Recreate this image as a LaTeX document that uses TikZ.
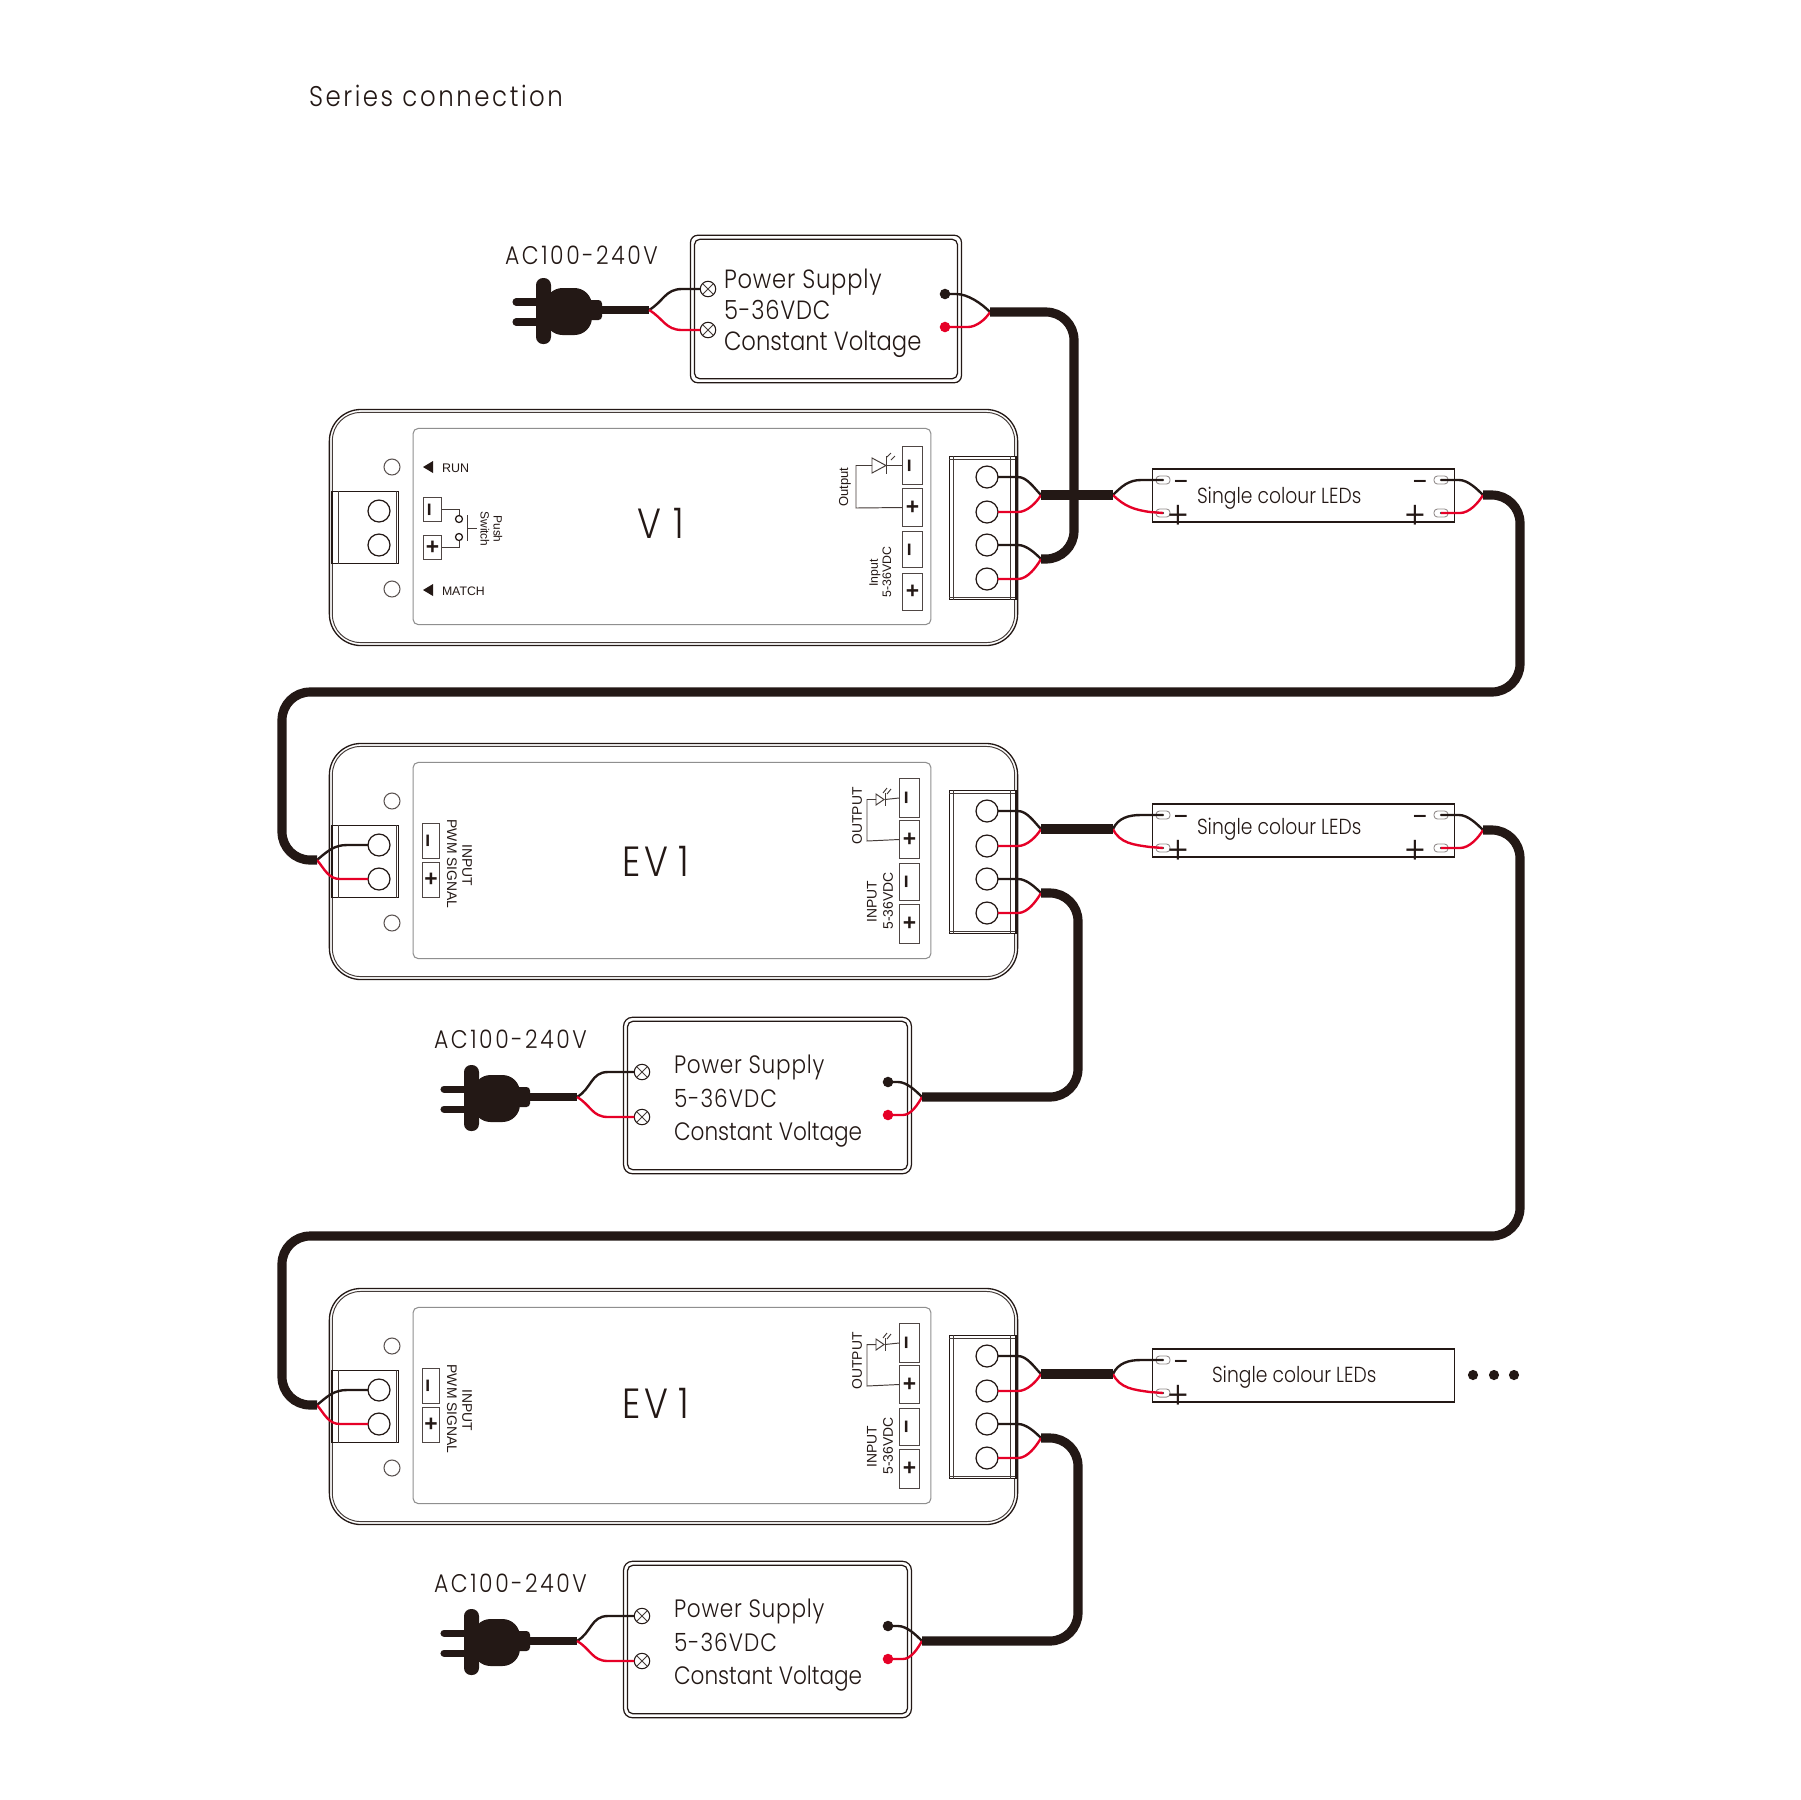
\documentclass[tikz,border=0pt]{standalone}
\usepackage{fontspec}
\usepackage{graphicx}
\usetikzlibrary{calc}
\setmainfont{Liberation Sans}
\newfontfamily\hv{Liberation Sans}
\newfontfamily\fut[FakeStretch=.86]{Poppins Light}
\newcommand\fz[1]{\fontsize{#1}{#1}\selectfont}
\newcommand\ls[1]{\addfontfeature{LetterSpace=#1}}
\def\pxu{0.5669pt}
\definecolor{ink}{HTML}{231815}
\definecolor{wred}{HTML}{E60027}
\definecolor{panelgray}{HTML}{8F8F8F}
\tikzset{
  rct/.style={draw=ink,rectangle,inner sep=0pt,outer sep=0pt,line width=.7pt},
  bodyo/.style={line width=.75pt,rounded corners=18pt},
  bodyi/.style={line width=.55pt,rounded corners=16pt,draw=ink!85},
  panel/.style={draw=panelgray,line width=.6pt,rounded corners=3pt},
  pin/.style={draw=ink!80,line width=.6pt,text=ink,font=\hv\bfseries\fz{13}},
  circ/.style={circle,draw=ink,fill=white,line width=.7pt,inner sep=0pt,outer sep=0pt},
  led/.style={circle,draw=ink!75,fill=white,line width=.6pt,inner sep=0pt,outer sep=0pt,minimum size=9.1pt},
  screw/.style={circle,draw=ink,fill=white,line width=.6pt,inner sep=0pt,outer sep=0pt,minimum size=8.8pt},
  dotk/.style={circle,fill=ink,inner sep=0pt,outer sep=0pt,minimum size=6pt},
  dotr/.style={circle,fill=wred,inner sep=0pt,outer sep=0pt,minimum size=6pt},
  wk/.style={draw=ink,line width=1.35pt},
  wr/.style={draw=wred,line width=1.35pt},
  cable/.style={draw=ink,line width=5.2pt,rounded corners=16pt},
  thin/.style={draw=ink!85,line width=.55pt},
  lbl/.style={inner sep=0pt,outer sep=0pt,text=ink},
  pad/.style={rectangle,rounded corners=2pt,draw=ink!50,fill=white,line width=.5pt,inner sep=0pt,outer sep=0pt,minimum width=8pt,minimum height=4.6pt},
}
\newcommand\rc[7][]{\node[rct,#1,minimum width={(#5-#3)*\pxu},minimum height={(#6-#4)*\pxu}] (#2) at ({(#3+#5)/2},{(#4+#6)/2}) {#7};}
\newcommand\vminus{\rotatebox{90}{−}}
% common parts of a controller, row-1 frame
\newcommand\ctrlbody{%
  \rc[bodyo]{body}{328}{408}{1019}{645}{}
  \rc[bodyi]{bodyin}{331}{411}{1016}{642}{}
  \rc[panel]{panelbox}{412}{427}{932}{624}{}
  \node[led] (runled) at (392,466) {};
  \node[led] (matchled) at (392,588) {};
  \rc[fill=white]{lblock}{331}{490}{399}{563}{}
  \draw[thin] (338,490) -- (338,563);
  \draw[thin] (396,490) -- (396,563);
  \draw[draw=ink,line width=1.5pt] (332,490) -- (332,563);
  \node[circ,minimum size=12.5pt] (la) at (379,510) {};
  \node[circ,minimum size=12.5pt] (lb) at (379,544) {};
  \rc[fill=white]{rblock}{949}{455}{1018}{599}{}
  \draw[thin] (953,455) -- (953,599);
  \draw[thin] (1010,455) -- (1010,599);
  \draw[thin] (949,458.5) -- (1018,458.5);
  \draw[thin] (949,596.5) -- (1018,596.5);
  \draw[draw=ink,line width=1.5pt] (1016.5,455) -- (1016.5,599);
  \node[circ,minimum size=12.5pt] (ca) at (987,476) {};
  \node[circ,minimum size=12.5pt] (cb) at (987,511) {};
  \node[circ,minimum size=12.5pt] (cc) at (987,544) {};
  \node[circ,minimum size=12.5pt] (cd) at (987,578) {};
  \coordinate (sout) at (1041,494);
  \coordinate (sin) at (1041,558);
}
\newcommand\ctrlwires{%
  \draw[wk] (ca.east) -- ++(20,0) to[out=0,in=135,looseness=.8] (sout);
  \draw[wr] (cb.east) -- ++(20,0) to[out=0,in=240,looseness=.8] (sout);
  \draw[wk] (cc.east) -- ++(20,0) to[out=0,in=135,looseness=.8] (sin);
  \draw[wr] (cd.east) -- ++(20,0) to[out=0,in=240,looseness=.8] (sin);
}
% EV1 panel contents
\newcommand\evparts[1]{%
  \node[lbl,font=\fut\fz{24}] (title) at (656,#1) {E\kern2pt V\kern6pt 1};
  \rc[pin]{pm}{422}{488}{440}{524}{\vminus}
  \rc[pin]{pp}{422}{527}{440}{563}{+}
  \node[lbl,rotate=-90,font=\hv\fz{7.9}] (linput) at (467,530) {INPUT};
  \node[lbl,rotate=-90,font=\hv\fz{7.9}] (lpwm) at (452,529) {PWM SIGNAL};
  \rc[pin]{oma}{899}{443}{920}{483}{\vminus}
  \rc[pin]{opa}{899}{485}{920}{524}{+}
  \rc[pin]{ima}{899}{528}{920}{566}{\vminus}
  \rc[pin]{ipa}{899}{569}{920}{609}{+}
  \node[lbl,rotate=90,font=\hv\fz{7.9}] (loutput) at (857,481) {OUTPUT};
  \node[lbl,rotate=90,font=\hv\fz{7.9}] (linp) at (872,567) {INPUT};
  \node[lbl,rotate=90,font=\hv\fz{7.9}] (lvdc) at (888,566) {5-36VDC};
  \draw[thin] (876,459) -- (876,470) -- (884,464.5) -- cycle;
  \draw[thin] (885,458) -- (885,471);
  \draw[thin] (885,464.5) -- (oma.west);
  \draw[thin] (876,464.5) -- (867,464.5) -- (867,506) -- (opa.west);
  \draw[thin] (883,458) -- (887,453);
  \draw[thin] (887,459) -- (891,454);
}
% LED strip, row-1 frame: text x, text baseline, split y, wire angle
\newcommand\strip[4]{%
  \rc[line width=.9pt,fill=white]{strip}{1152}{468}{1455}{521}{}
  \node[pad] (pa) at (1163,479) {};
  \node[pad] (pb) at (1163,512) {};
  \fill[ink] (pa) circle (1.2);
  \fill[ink] (pb) circle (1.2);
  \node[lbl,font=\fut\fz{20}] (tminus) at (1181,486) {−};
  \node[lbl,font=\fut\fz{22}] (tplus) at (1178,516) {+};
  \node[lbl,anchor=base west,font=\fut\fz{12.4}] (stext) at (#1,#2) {Single colour LEDs};
  \coordinate (sleft) at (1113,#3);
  \draw[wk] (sleft) to[out=#4,in=180] (1141,479) -- (pa.center);
  \draw[wr] (sleft) to[out=-#4,in=172] (1150,511) -- (pb.center);
}
\newcommand\stripright{%
  \node[pad] (qa) at (1441,479) {};
  \node[pad] (qb) at (1441,512) {};
  \fill[ink] (qa) circle (1.2);
  \fill[ink] (qb) circle (1.2);
  \node[lbl,font=\fut\fz{20}] (uminus) at (1420,486) {−};
  \node[lbl,font=\fut\fz{22}] (uplus) at (1415,516) {+};
  \coordinate (sright) at (1483,494);
  \draw[wk] (qa.center) -- (1459,479) to[out=0,in=135,looseness=.8] (sright);
  \draw[wr] (qb.center) -- (1460,512) to[out=0,in=240,looseness=.8] (sright);
}
% mains plug, row-1 frame
\newcommand\plug{%
  \draw[draw=ink,line width=4pt,line cap=round] (516,302) -- (540,302);
  \draw[draw=ink,line width=4pt,line cap=round] (516,322) -- (540,322);
  \fill[ink,rounded corners=4pt] (536,278) rectangle (551,344);
  \fill[ink,rounded corners=10pt] (545,288) rectangle (592,335);
  \fill[ink,rounded corners=2pt] (585,300) rectangle (602,320);
  \draw[draw=ink,line width=4.9pt] (600,310) -- (649,310);
  \coordinate (pend) at (649,310);
}
\newcommand\screwcross[1]{%
  \draw[thin] (#1.45) -- (#1.225);
  \draw[thin] (#1.135) -- (#1.-45);
}
% power supply of rows 2 and 3
\newcommand\psutwo{%
  \rc[line width=.7pt,rounded corners=5pt]{pso}{623}{1016}{912}{1173}{}
  \rc[line width=.7pt,rounded corners=3pt]{psi}{627}{1020}{908}{1169}{}
  \begin{scope}[shift={(-72,786)}]\plug\end{scope}
  \node[lbl,anchor=base west,font=\fut\fz{14.5}] (ac) at (434,1047) {\ls{10}AC100-240V};
  \node[screw] (ta) at (642,1071) {};
  \node[screw] (tb) at (642,1116) {};
  \screwcross{ta}\screwcross{tb}
  \node[lbl,anchor=base west,font=\fut\fz{14.3}] (ps1) at (674,1072) {\ls{3}Power Supply};
  \node[lbl,anchor=base west,font=\fut\fz{14.3}] (ps2) at (674,1106) {\ls{4}5-36VDC};
  \node[lbl,anchor=base west,font=\fut\fz{14.3}] (ps3) at (674,1139) {Constant Voltage};
  \node[dotk] (da) at (888,1081) {};
  \node[dotr] (db) at (888,1114) {};
  \coordinate (psplit) at (922,1096);
  \draw[wk] (pend) to[out=30,in=180,looseness=1.1] (608,1071) -- (ta.west);
  \draw[wr] (pend) to[out=-30,in=180,looseness=1.1] (608,1116) -- (tb.west);
  \draw[wk] (da.center) -- (898,1081) to[out=0,in=135,looseness=.8] (psplit);
  \draw[wr] (db.center) -- (903,1114) to[out=0,in=240,looseness=.8] (psplit);
}
\begin{document}
\begin{tikzpicture}[x=0.02cm,y=-0.02cm]
\useasboundingbox (0,0) rectangle (1800,1800);
\fill[white] (0,0) rectangle (1800,1800);
\node[lbl,anchor=base west,font=\fut\fz{16.2}] (maintitle) at (309,106) {\ls{9}Series connection};
% ---------- row 1
\begin{scope}[name prefix=a-,shift={(0,1)}]
  \ctrlbody
  \node[lbl,font=\fut\fz{24}] (title) at (661,522) {V\kern6.7pt 1};
  \draw[fill=ink,draw=none] (423,466) -- (433,460) -- (433,472) -- cycle;
  \draw[fill=ink,draw=none] (423,589) -- (433,583) -- (433,595) -- cycle;
  \node[lbl,anchor=west,font=\hv\fz{7.1}] (run) at (442,467) {RUN};
  \node[lbl,anchor=west,font=\hv\fz{7}] (match) at (442,590) {MATCH};
  \rc[pin]{swm}{423}{496}{442}{521}{\vminus}
  \rc[pin]{swp}{423}{534}{442}{559}{+}
  \node[circ,minimum size=4pt] (sa) at (459,518) {};
  \node[circ,minimum size=4pt] (sb) at (459,536) {};
  \draw[thin] (swm.east) -- (459,508.5) -- (sa.north);
  \draw[thin] (swp.east) -- (459,546.5) -- (sb.south);
  \draw[thin] (467,514) -- (467,540);
  \draw[thin] (467,527) -- (477,527);
  \node[lbl,rotate=-90,font=\hv\fz{6.8}] (lswitch) at (485,528) {Switch};
  \node[lbl,rotate=-90,font=\hv\fz{6.8}] (lpush) at (498,528) {Push};
  \rc[pin]{oma}{902}{445}{923}{484}{\vminus}
  \rc[pin]{opa}{902}{487}{923}{526}{+}
  \rc[pin]{ima}{902}{530}{923}{567}{\vminus}
  \rc[pin]{ipa}{902}{572}{923}{610}{+}
  \node[lbl,rotate=90,font=\hv\fz{7.4}] (loutput) at (845,486) {Output};
  \node[lbl,rotate=90,font=\hv\fz{7}] (linp) at (875,572) {Input};
  \node[lbl,rotate=90,font=\hv\fz{7}] (lvdc) at (887,571) {5-36VDC};
  \draw[thin] (872,457) -- (872,472) -- (886,464.5) -- cycle;
  \draw[thin] (886,455) -- (886,473);
  \draw[thin] (886,464.5) -- (oma.west);
  \draw[thin] (872,464.5) -- (856,464.5) -- (856,507) -- (opa.west);
  \draw[thin] (887,456) -- (891,452);
  \draw[thin] (891,459) -- (895,455);
\end{scope}
\begin{scope}[name prefix=b-,shift={(0,335)}]
  \ctrlbody
  \evparts{526}
\end{scope}
\begin{scope}[name prefix=c-,shift={(0,880)}]
  \ctrlbody
  \evparts{523}
\end{scope}
% LED strips
\begin{scope}[name prefix=sa-,shift={(0,1)}]
  \strip{1197}{502}{494}{45}\stripright
\end{scope}
\begin{scope}[name prefix=sb-,shift={(0,336)}]
  \strip{1197}{498}{493}{65}\stripright
\end{scope}
\begin{scope}[name prefix=sc-,shift={(0,881)}]
  \strip{1212}{501}{493}{65}
\end{scope}
\node[dotk,minimum size=5.8pt] (more1) at (1473,1375) {};
\node[dotk,minimum size=5.8pt] (more2) at (1494,1375) {};
\node[dotk,minimum size=5.8pt] (more3) at (1514,1375) {};
% ---------- power supply 1
\rc[line width=.7pt,rounded corners=4pt]{p1o}{690}{235}{962}{383}{}
\rc[line width=.7pt,rounded corners=3pt]{p1i}{694}{239}{958}{379}{}
\plug
\node[lbl,anchor=base west,font=\fut\fz{14.5}] (ac1) at (505,264) {\ls{10}AC100-240V};
\node[screw] (t1a) at (708,289) {};
\node[screw] (t1b) at (708,330) {};
\screwcross{t1a}\screwcross{t1b}
\node[lbl,anchor=base west,font=\fut\fz{15}] (p1l1) at (724,288) {\ls{3}Power Supply};
\node[lbl,anchor=base west,font=\fut\fz{15}] (p1l2) at (724,319) {\ls{3}5-36VDC};
\node[lbl,anchor=base west,font=\fut\fz{15}] (p1l3) at (724,350.5) {Constant Voltage};
\node[dotk] (d1a) at (945,294) {};
\node[dotr] (d1b) at (945,327) {};
\coordinate (s1) at (990,312);
\draw[wk] (pend) to[out=30,in=180,looseness=1.1] (682,289) -- (t1a.west);
\draw[wr] (pend) to[out=-30,in=180,looseness=1.1] (682,330) -- (t1b.west);
\draw[wk] (d1a.center) -- (956,294) to[out=0,in=135,looseness=.8] (s1);
\draw[wr] (d1b.center) -- (968,327) to[out=0,in=240,looseness=.8] (s1);
% ---------- power supplies 2, 3
\begin{scope}[name prefix=pb-,shift={(0,1)}]\psutwo\end{scope}
\begin{scope}[name prefix=pc-,shift={(0,545)}]\psutwo\end{scope}
% ---------- wires on the controllers
\begin{scope}[name prefix=a-]\ctrlwires\end{scope}
\begin{scope}[name prefix=b-]\ctrlwires\end{scope}
\begin{scope}[name prefix=c-]\ctrlwires\end{scope}
% left inputs
\coordinate (inb) at (317,860);
\coordinate (inc) at (317,1405);
\draw[wk] (inb) to[out=40,in=180] (347,845) -- (b-la.west);
\draw[wr] (inb) to[out=-50,in=180] (340,879) -- (b-lb.west);
\draw[wk] (inc) to[out=40,in=180] (347,1390) -- (c-la.west);
\draw[wr] (inc) to[out=-50,in=180] (340,1424) -- (c-lb.west);
% ---------- thick cables
\coordinate (c1) at (1074,312);
\coordinate (c2) at (1074,559);
\coordinate (c3) at (1520,495);
\coordinate (c4) at (1520,692);
\coordinate (c5) at (282,692);
\coordinate (c6) at (282,860);
\coordinate (c7) at (1078,893);
\coordinate (c8) at (1078,1097);
\coordinate (c9) at (1520,830);
\coordinate (c10) at (1520,1236);
\coordinate (c11) at (282,1236);
\coordinate (c12) at (282,1405);
\coordinate (c13) at (1078,1438);
\coordinate (c14) at (1078,1641);
\draw[cable] (s1) -- (c1) -- (c2) -- (a-sin);
\draw[cable,rounded corners=0pt] (a-sout) -- (sa-sleft);
\draw[cable] (sa-sright) -- (c3) -- (c4) -- (c5) -- (c6) -- (inb);
\draw[cable,rounded corners=0pt] (b-sout) -- (sb-sleft);
\draw[cable] (b-sin) -- (c7) -- (c8) -- (pb-psplit);
\draw[cable] (sb-sright) -- (c9) -- (c10) -- (c11) -- (c12) -- (inc);
\draw[cable,rounded corners=0pt] (c-sout) -- (sc-sleft);
\draw[cable] (c-sin) -- (c13) -- (c14) -- (pc-psplit);
\end{tikzpicture}
\end{document}
